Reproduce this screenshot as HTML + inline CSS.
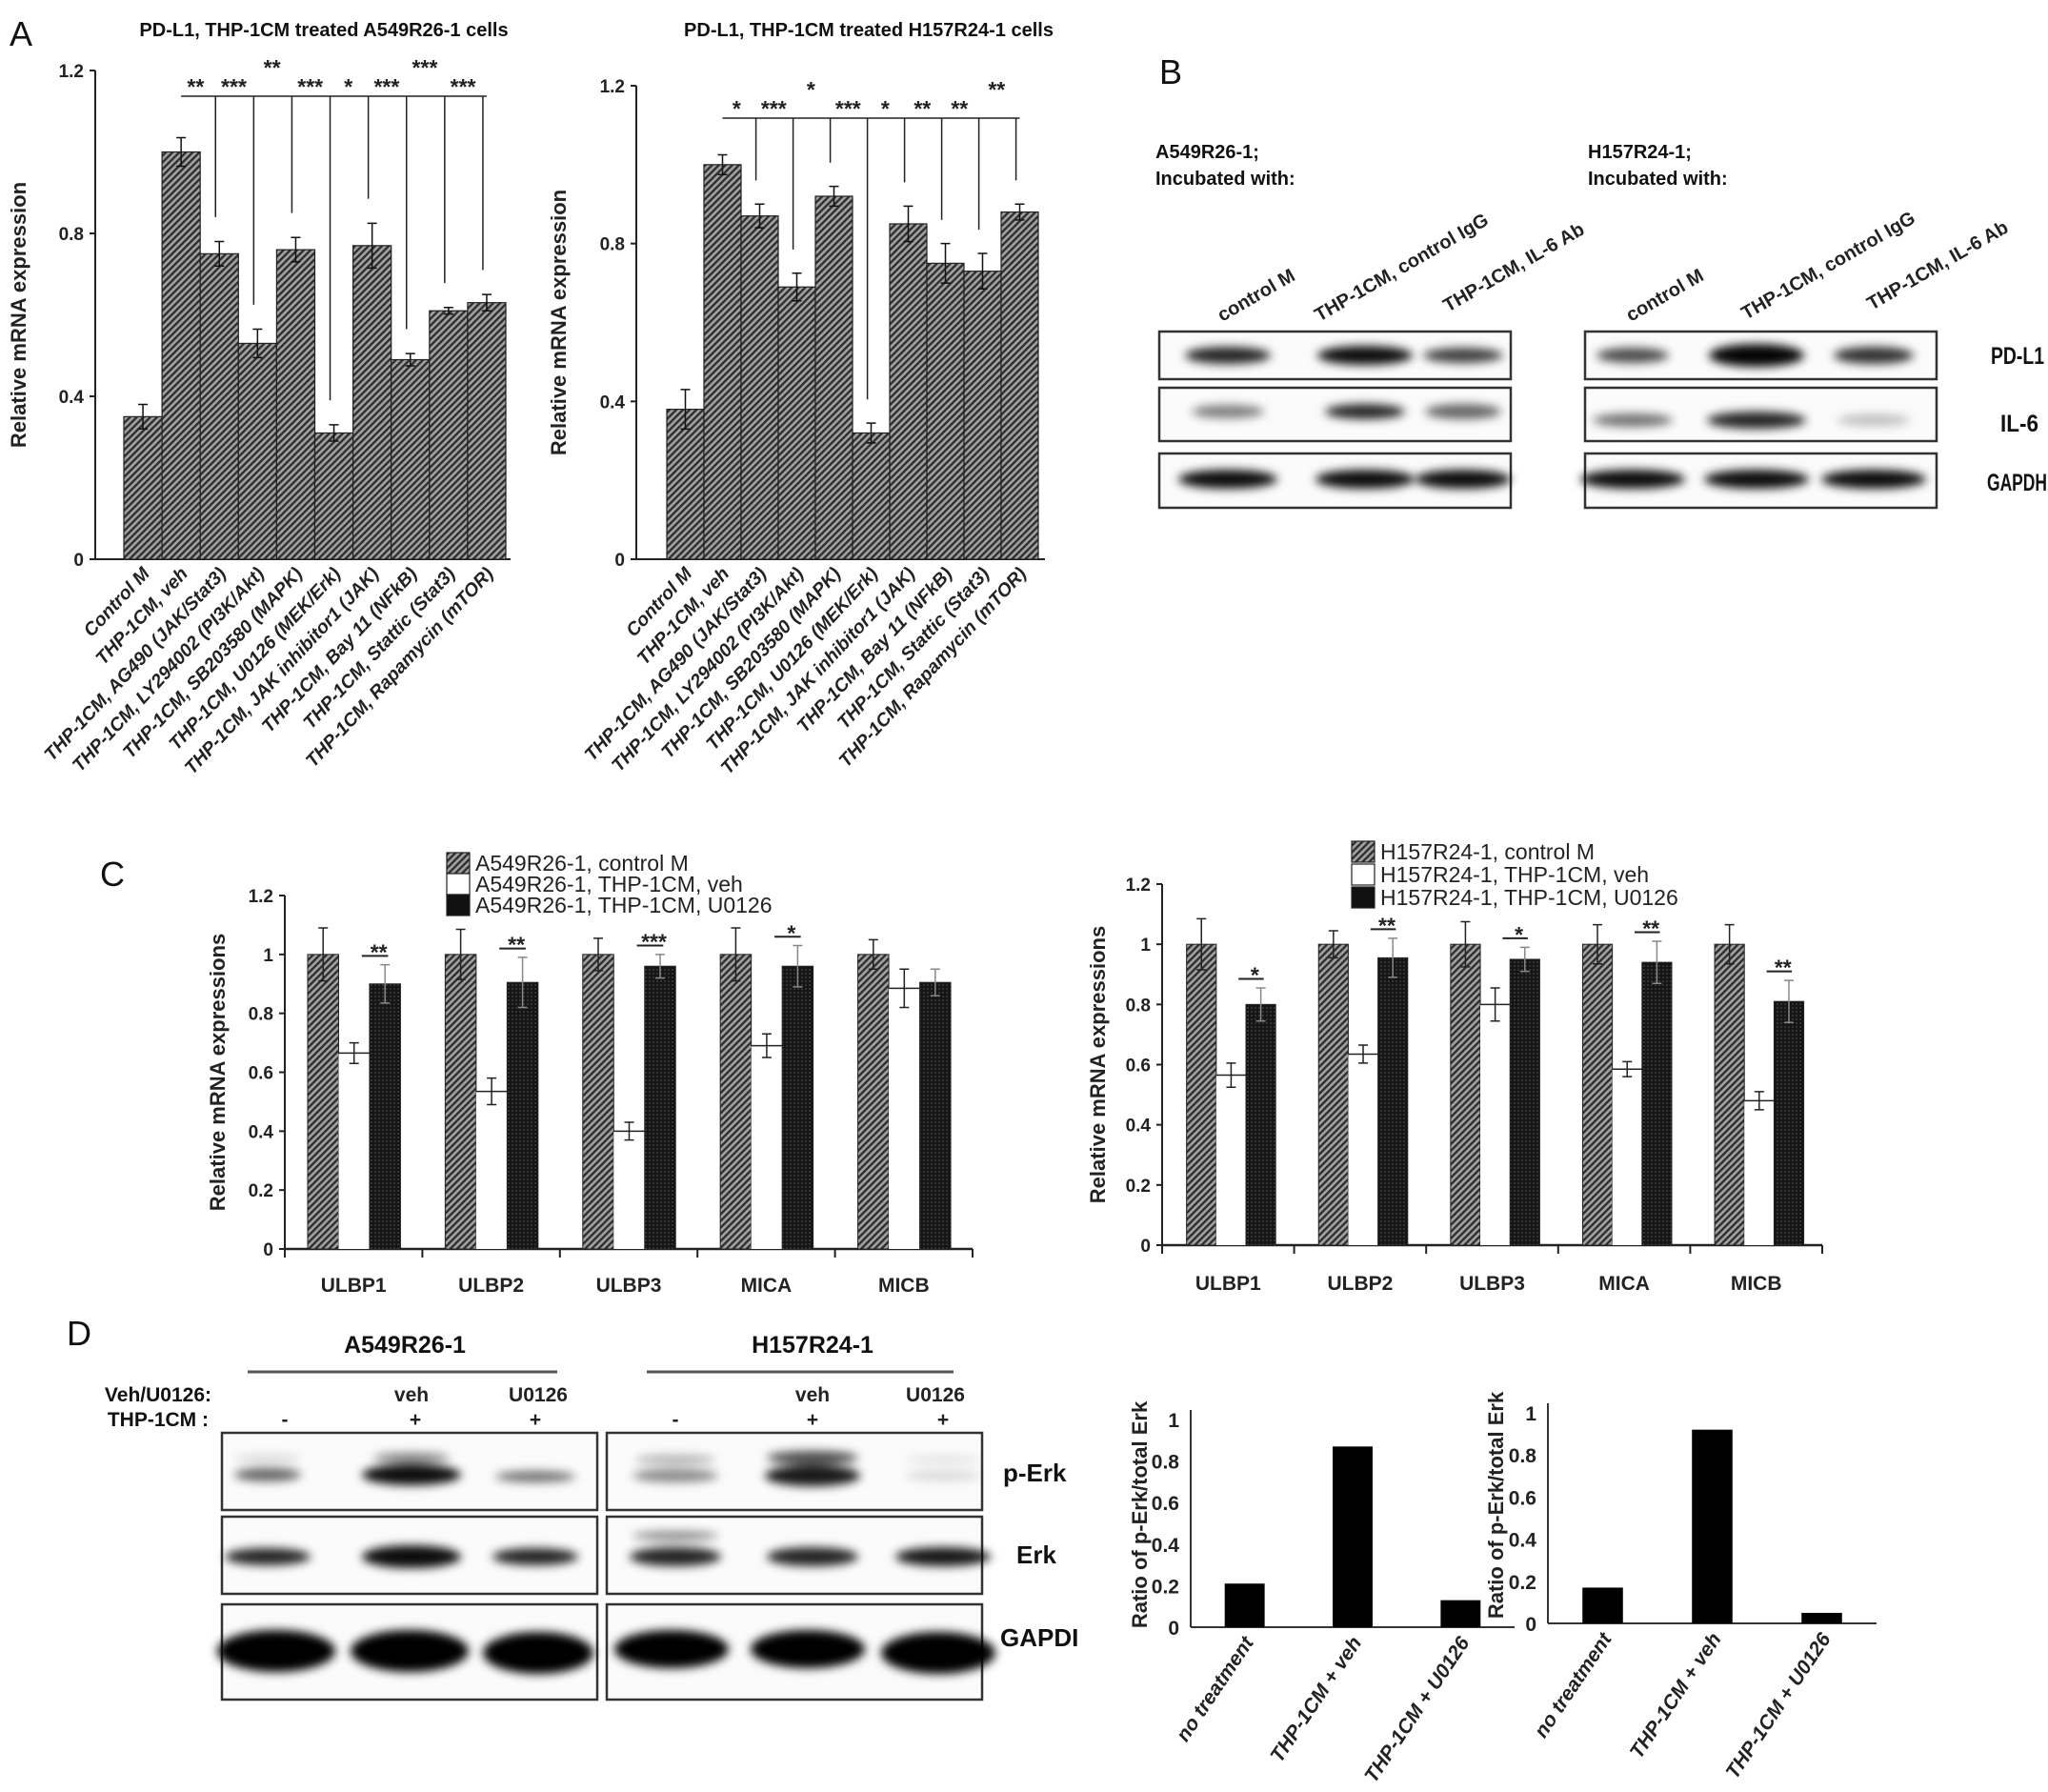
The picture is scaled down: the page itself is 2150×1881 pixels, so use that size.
<!DOCTYPE html>
<html><head><meta charset="utf-8"><style>
html,body{margin:0;padding:0;background:#fff;}
svg{display:block;font-family:"Liberation Sans",sans-serif;}
</style></head><body>
<svg id="fig" width="2150" height="1881" viewBox="0 0 2150 1881" xmlns="http://www.w3.org/2000/svg">
<defs>
<pattern id="hatch" width="5" height="5" patternUnits="userSpaceOnUse" patternTransform="rotate(45)"><rect width="5" height="5" fill="#a0a0a0"/><rect width="2.3" height="5" fill="#2c2c2c"/></pattern>
<pattern id="dots" width="4" height="4" patternUnits="userSpaceOnUse"><rect width="4" height="4" fill="#151515"/><circle cx="2" cy="2" r="0.8" fill="#555"/></pattern>
<filter id="blur" x="-50%" y="-100%" width="200%" height="300%"><feGaussianBlur stdDeviation="5"/></filter>
</defs>
<g font-weight="bold" fill="#111">
<text x="10" y="48" font-size="36" font-weight="normal">A</text>
<text x="340" y="38" font-size="20" text-anchor="middle">PD-L1, THP-1CM treated A549R26-1 cells</text>
<text x="912" y="38" font-size="20" text-anchor="middle">PD-L1, THP-1CM treated H157R24-1 cells</text>
<text x="1217" y="88" font-size="36" font-weight="normal">B</text>
<text x="1213" y="166" font-size="20">A549R26-1;</text>
<text x="1213" y="194" font-size="20">Incubated with:</text>
<text x="1667" y="166" font-size="20">H157R24-1;</text>
<text x="1667" y="194" font-size="20">Incubated with:</text>
<text x="2090" y="382" font-size="25" textLength="56" lengthAdjust="spacingAndGlyphs">PD-L1</text>
<text x="2100" y="453" font-size="25" textLength="40" lengthAdjust="spacingAndGlyphs">IL-6</text>
<text x="2086" y="515" font-size="25" textLength="63" lengthAdjust="spacingAndGlyphs">GAPDH</text>
<text x="105" y="930" font-size="36" font-weight="normal">C</text>
<text x="70" y="1412" font-size="36" font-weight="normal">D</text>
<text x="425" y="1420" font-size="25" text-anchor="middle">A549R26-1</text>
<text x="853" y="1420" font-size="25" text-anchor="middle">H157R24-1</text>
<text x="222" y="1471" font-size="21" text-anchor="end">Veh/U0126:</text>
<text x="219" y="1497" font-size="21" text-anchor="end">THP-1CM :</text>
<text x="1053" y="1555" font-size="26">p-Erk</text>
<text x="1067" y="1641" font-size="26">Erk</text>
<text x="1050" y="1728" font-size="26">GAPDI</text>
</g>
<line x1="260" y1="1440" x2="585" y2="1440" stroke="#555" stroke-width="3"/>
<line x1="679" y1="1440" x2="1001" y2="1440" stroke="#555" stroke-width="3"/>
</svg>
<script>
// ---------- data ----------
const catsA = ["Control M","THP-1CM, veh","THP-1CM, AG490 (JAK/Stat3)","THP-1CM, LY294002 (PI3K/Akt)","THP-1CM, SB203580 (MAPK)","THP-1CM, U0126 (MEK/Erk)","THP-1CM, JAK inhibitor1 (JAK)","THP-1CM, Bay 11 (NFkB)","THP-1CM, Stattic (Stat3)","THP-1CM, Rapamycin (mTOR)"];
const a1Values = [0.35,1.0,0.75,0.53,0.76,0.31,0.77,0.49,0.61,0.63];
const a1Err = [0.03,0.035,0.03,0.035,0.03,0.02,0.055,0.015,0.008,0.02];
const a1Stars = ["**","***","**","***","*","***","***","***"];
const a1StarUp = [0,0,1,0,0,0,1,0];
const a2Values = [0.38,1.0,0.87,0.69,0.92,0.32,0.85,0.75,0.73,0.88];
const a2Err = [0.05,0.025,0.03,0.035,0.025,0.025,0.045,0.05,0.045,0.02];
const a2Stars = ["*","***","*","***","*","**","**","**"];
const a2StarUp = [0,0,1,0,0,0,0,1];
const tickA = [0,0.4,0.8,1.2];
const tickLabelsA = ["0","0.4","0.8","1.2"];

const catsC = ["ULBP1","ULBP2","ULBP3","MICA","MICB"];
const c1Control = [1,1,1,1,1];
const c1ControlErr = [0.09,0.085,0.055,0.09,0.05];
const c1Veh = [0.665,0.535,0.40,0.69,0.885];
const c1VehErr = [0.035,0.045,0.03,0.04,0.065];
const c1U0126 = [0.90,0.905,0.96,0.96,0.905];
const c1U0126Err = [0.065,0.085,0.04,0.07,0.045];
const c1Stars = ["**","**","***","*",""];
const c2Control = [1,1,1,1,1];
const c2ControlErr = [0.085,0.045,0.075,0.065,0.065];
const c2Veh = [0.565,0.635,0.80,0.585,0.48];
const c2VehErr = [0.04,0.03,0.055,0.025,0.03];
const c2U0126 = [0.80,0.955,0.95,0.94,0.81];
const c2U0126Err = [0.055,0.065,0.04,0.07,0.07];
const c2Stars = ["*","**","*","**","**"];
const tickC = [0,0.2,0.4,0.6,0.8,1,1.2];
const tickLabelsC = ["0","0.2","0.4","0.6","0.8","1","1.2"];
const legend1 = ["A549R26-1,  control M","A549R26-1,  THP-1CM, veh","A549R26-1,  THP-1CM, U0126"];
const legend2 = ["H157R24-1,  control M","H157R24-1,  THP-1CM, veh","H157R24-1,  THP-1CM, U0126"];

const catsD = ["no treatment","THP-1CM + veh","THP-1CM + U0126"];
const d1Values = [0.21,0.87,0.13];
const d2Values = [0.17,0.92,0.05];
const tickD = [0,0.2,0.4,0.6,0.8,1];
const tickLabelsD = ["0","0.2","0.4","0.6","0.8","1"];

// ---------- helpers ----------
const NS="http://www.w3.org/2000/svg";
const svg=document.getElementById('fig');
function mk(tag,attrs,parent){const e=document.createElementNS(NS,tag);for(const k in attrs)e.setAttribute(k,attrs[k]);(parent||svg).appendChild(e);return e;}
function txt(s,attrs,parent){const e=mk('text',attrs,parent);e.textContent=s;return e;}

// ---------- panel A ----------
function drawA(cfg,vals,errs,stars,up,prefix){
  const g=mk('g',{});
  
  
  const y=v=>cfg.yZero-v/1.2*(cfg.yZero-cfg.yTop);
  const w=(cfg.barsR-cfg.barsL)/vals.length;
  const cx=i=>cfg.barsL+w*(i+0.5);
  const ax=mk('line',{x1:cfg.x0,y1:cfg.yTop,x2:cfg.x0,y2:cfg.yZero,stroke:'#222','stroke-width':2},g);
  
  
  const xa=mk('line',{x1:cfg.x0,y1:cfg.yZero,x2:cfg.xEnd,y2:cfg.yZero,stroke:'#222','stroke-width':2},g);
  
  
  tickA.forEach((t,i)=>{
    mk('line',{x1:cfg.x0-6,y1:y(t),x2:cfg.x0,y2:y(t),stroke:'#222','stroke-width':2},g);
    const l=txt(tickLabelsA[i],{x:cfg.x0-12,y:y(t)+7,'font-size':19,'font-weight':'bold','text-anchor':'end',fill:'#222'},g);
    
    
  });
  const yt=txt('Relative mRNA expression',{x:0,y:0,'font-size':22,'font-weight':'bold','text-anchor':'middle',fill:'#222',transform:`translate(${cfg.titleX},${(cfg.yTop+cfg.yZero)/2}) rotate(-90)`},g);
  
  
  vals.forEach((v,i)=>{
    const b=mk('rect',{x:cfg.barsL+w*i,y:y(v),width:w,height:cfg.yZero-y(v),fill:'url(#hatch)',stroke:'#222','stroke-width':1.2},g);
    
    
    const e=mk('path',{d:`M${cx(i)} ${y(v+errs[i])}V${y(v-errs[i])}M${cx(i)-5} ${y(v+errs[i])}h10M${cx(i)-5} ${y(v-errs[i])}h10`,stroke:'#111','stroke-width':1.5,fill:'none'},g);
    
    
    const l=txt(catsA[i],{x:0,y:0,'font-size':19.5,'font-weight':'bold','font-style':'italic','text-anchor':'end',fill:'#222',transform:`translate(${cx(i)+8},${cfg.yZero+16}) rotate(-47)`},g);
    
    
  });
  const br=mk('line',{x1:cx(1),y1:cfg.bracketY,x2:cx(vals.length-1),y2:cfg.bracketY,stroke:'#222','stroke-width':1.5},g);
  
  
  stars.forEach((s,k)=>{
    const i=k+2;
    const vx=cx(i)-w*0.1;
    const vl=mk('line',{x1:vx,y1:cfg.bracketY,x2:vx,y2:y(vals[i]+errs[i]+0.06),stroke:'#222','stroke-width':1.5},g);
    
    
    const st=txt(s,{x:cx(i)-w*0.62,y:cfg.bracketY-(up[k]?22:2),'font-size':23,'font-weight':'bold','text-anchor':'middle',fill:'#222'},g);
    
    
  });
}
drawA({x0:100,yTop:74,yZero:587,barsL:130,barsR:531,xEnd:536,bracketY:101,titleX:27},a1Values,a1Err,a1Stars,a1StarUp,'a1');
drawA({x0:668,yTop:90,yZero:587,barsL:700,barsR:1090,xEnd:1097,bracketY:124,titleX:594},a2Values,a2Err,a2Stars,a2StarUp,'a2');

// ---------- panel C ----------
function drawC(cfg,ctrl,ctrlE,veh,vehE,u,uE,stars,legend,prefix){
  const g=mk('g',{});
  
  
  const y=v=>cfg.yZero-v/1.2*(cfg.yZero-cfg.yTop);
  const G=(cfg.xEnd-cfg.x0)/catsC.length;
  const bw=0.225*G;
  const ax=mk('line',{x1:cfg.x0,y1:cfg.yTop,x2:cfg.x0,y2:cfg.yZero,stroke:'#222','stroke-width':2},g);
  
  
  const xa=mk('line',{x1:cfg.x0,y1:cfg.yZero,x2:cfg.xEnd,y2:cfg.yZero,stroke:'#222','stroke-width':2.5},g);
  
  
  tickC.forEach((t,i)=>{
    mk('line',{x1:cfg.x0-6,y1:y(t),x2:cfg.x0,y2:y(t),stroke:'#222','stroke-width':2},g);
    const l=txt(tickLabelsC[i],{x:cfg.x0-12,y:y(t)+7,'font-size':19,'font-weight':'bold','text-anchor':'end',fill:'#222'},g);
    
    
  });
  for(let k=0;k<=catsC.length;k++) mk('line',{x1:cfg.x0+G*k,y1:cfg.yZero,x2:cfg.x0+G*k,y2:cfg.yZero+9,stroke:'#222','stroke-width':2},g);
  const yt=txt('Relative mRNA expressions',{x:0,y:0,'font-size':22,'font-weight':'bold','text-anchor':'middle',fill:'#222',transform:`translate(${cfg.titleX},${(cfg.yTop+cfg.yZero)/2}) rotate(-90)`},g);
  
  
  const series=[[ctrl,ctrlE,'url(#hatch)','control'],[veh,vehE,'#fff','veh'],[u,uE,'url(#dots)','u0126']];
  catsC.forEach((c,i)=>{
    const gx=cfg.x0+G*i;
    series.forEach((s,j)=>{
      const bx=gx+cfg.off*G+bw*j, v=s[0][i], e=s[1][i], cx=bx+bw/2;
      const b=mk('rect',{x:bx,y:y(v),width:bw,height:cfg.yZero-y(v),fill:s[2],stroke:j==1?'none':'#222','stroke-width':1},g);
      
      
      if(j==1){mk('line',{x1:bx,y1:y(v),x2:bx+bw,y2:y(v),stroke:'#222','stroke-width':1.5},g);}
      const eb=mk('path',{d:`M${cx} ${y(v+e)}V${y(v-e)}M${cx-5} ${y(v+e)}h10M${cx-5} ${y(v-e)}h10`,stroke:j==2?'#888':'#222','stroke-width':1.5,fill:'none'},g);
      
      
    });
    const l=txt(c,{x:gx+G/2,y:cfg.labelY,'font-size':21,'font-weight':'bold','text-anchor':'middle',fill:'#222'},g);
    
    
    if(stars[i]){
      const sy=y(u[i]+uE[i]+0.03);
      const cxU=gx+cfg.off*G+bw*2.5;
      const sl=mk('line',{x1:cxU-bw*0.75,y1:sy,x2:cxU+bw*0.1,y2:sy,stroke:'#222','stroke-width':2},g);
      
      
      const st=txt(stars[i],{x:cxU-bw*0.2,y:sy+4,'font-size':23,'font-weight':'bold','text-anchor':'middle',fill:'#222'},g);
      
      
    }
  });
  const fills=['url(#hatch)','#fff','#111'];
  legend.forEach((s,k)=>{
    const ly=cfg.legY+k*cfg.legStep;
    const r=mk('rect',{x:cfg.legX,y:ly-10,width:24,height:22,fill:fills[k],stroke:'#222','stroke-width':1.2},g);
    
    
    const t=txt(s,{x:cfg.legX+30,y:ly+9,'font-size':23,fill:'#222'},g);
    
    
  });
}
drawC({x0:299,yTop:940,yZero:1311,xEnd:1021,off:0.166,labelY:1356,titleX:236,legX:469,legY:905,legStep:22},c1Control,c1ControlErr,c1Veh,c1VehErr,c1U0126,c1U0126Err,c1Stars,legend1,'c1');
drawC({x0:1220,yTop:928,yZero:1307,xEnd:1913,off:0.185,labelY:1354,titleX:1160,legX:1419,legY:893,legStep:24},c2Control,c2ControlErr,c2Veh,c2VehErr,c2U0126,c2U0126Err,c2Stars,legend2,'c2');

// ---------- panel D charts ----------
function drawD(cfg,vals,prefix){
  const g=mk('g',{});
  
  
  const y=v=>cfg.yZero-v*(cfg.yZero-cfg.yTop);
  const G=(cfg.xEnd-cfg.x0)/catsD.length;
  const ax=mk('line',{x1:cfg.x0,y1:cfg.yTop-10,x2:cfg.x0,y2:cfg.yZero,stroke:'#333','stroke-width':2},g);
  
  
  const xa=mk('line',{x1:cfg.x0,y1:cfg.yZero,x2:cfg.xEnd,y2:cfg.yZero,stroke:'#333','stroke-width':2},g);
  
  
  tickD.forEach((t,i)=>{
    const l=txt(tickLabelsD[i],{x:cfg.tickX,y:y(t)+8,'font-size':21,'font-weight':'bold','text-anchor':'end',fill:'#222'},g);
    
    
  });
  const yt=txt('Ratio of p-Erk/total Erk',{x:0,y:0,'font-size':22,'font-weight':'bold','text-anchor':'middle',fill:'#222',transform:`translate(${cfg.titleX},${cfg.titleY}) rotate(-90)`},g);
  
  
  vals.forEach((v,i)=>{
    const cx=cfg.x0+G*(i+0.5), bw=0.37*G;
    const b=mk('rect',{x:cx-bw/2,y:y(v),width:bw,height:cfg.yZero-y(v),fill:'#000'},g);
    
    
    const l=txt(catsD[i],{x:0,y:0,'font-size':21,'font-weight':'bold','font-style':'italic','text-anchor':'end',fill:'#222',transform:`translate(${cx+10},${cfg.yZero+16}) rotate(-56)`},g);
    
    
  });
}
drawD({x0:1250,yTop:1490,yZero:1708,xEnd:1590,tickX:1238,titleX:1204,titleY:1590},d1Values,'d1');
drawD({x0:1625,yTop:1483,yZero:1704,xEnd:1970,tickX:1613,titleX:1578,titleY:1580},d2Values,'d2');

// ---------- western blots ----------
function blot(x,y,w,h,bands,name){
  const g=mk('g',{});
  
  
  mk('rect',{x:x,y:y,width:w,height:h,fill:'#fbfbfb',stroke:'#333','stroke-width':2.5},g);
  const bg=mk('g',{filter:'url(#blur)'},g);
  bands.forEach(b=>mk('ellipse',{cx:b[0],cy:b[1],rx:b[2],ry:b[3],fill:'#000','fill-opacity':b[4]},bg));
}
// Panel B
blot(1217,348,369,50,[[1289,373,45,9,.85],[1433,373,50,10,.95],[1536,373,42,8,.75]],'blot-b1-pdl1');
blot(1217,407,369,56,[[1289,432,38,7,.5],[1433,432,42,8,.85],[1536,432,40,8,.6]],'blot-b1-il6');
blot(1217,476,369,57,[[1289,503,52,10,.95],[1433,503,52,10,.95],[1536,503,50,10,.95]],'blot-b1-gapdh');
blot(1664,348,369,50,[[1714,373,38,8,.7],[1844,373,50,12,.98],[1967,373,42,9,.8]],'blot-b2-pdl1');
blot(1664,407,369,56,[[1714,441,42,7,.55],[1844,441,52,9,.85],[1967,441,38,6,.25]],'blot-b2-il6');
blot(1664,476,369,57,[[1714,503,55,10,.95],[1844,503,55,10,.95],[1967,503,55,10,.95]],'blot-b2-gapdh');
// Panel D
blot(233,1504,394,81,[[281,1548,35,7,.6],[432,1548,52,11,.95],[562,1550,42,6,.55],[432,1530,40,5,.5],[281,1531,35,4,.15]],'blot-d1-perk');
blot(637,1504,394,81,[[709,1549,45,7,.45],[853,1549,50,11,.9],[990,1549,40,6,.12],[709,1532,42,5,.3],[853,1530,48,7,.7],[990,1532,40,4,.1]],'blot-d2-perk');
blot(233,1592,394,81,[[281,1634,45,9,.85],[432,1634,52,12,.95],[562,1634,45,9,.85]],'blot-d1-erk');
blot(637,1592,394,81,[[709,1634,48,10,.85],[853,1634,48,10,.85],[990,1634,50,10,.9],[709,1612,45,5,.45]],'blot-d2-erk');
blot(233,1684,394,100,[[290,1733,62,22,1],[430,1733,62,22,1],[565,1735,58,22,1]],'blot-d1-gapdh');
blot(637,1684,394,100,[[705,1731,60,20,1],[848,1731,60,20,1],[985,1735,60,22,1]],'blot-d2-gapdh');

// Blot column labels (panel B, rotated)
const colLabels=[["control M",1283,338],["THP-1CM, control IgG",1385,338],["THP-1CM, IL-6 Ab",1520,328],["control M",1712,338],["THP-1CM, control IgG",1833,336],["THP-1CM, IL-6 Ab",1965,326]];
colLabels.forEach(c=>{
  const t=txt(c[0],{x:0,y:0,'font-size':20,'font-weight':'bold',fill:'#222',transform:`translate(${c[1]},${c[2]}) rotate(-30)`});
  
  
});
// Panel D treatment row labels
const dRow=[["veh",432,1471],["U0126",565,1471],["veh",853,1471],["U0126",982,1471],["-",299,1497],["+",436,1497],["+",562,1497],["-",709,1497],["+",853,1497],["+",990,1497]];
dRow.forEach(c=>{
  const t=txt(c[0],{x:c[1],y:c[2],'font-size':21,'font-weight':'bold','text-anchor':'middle',fill:'#222'});
  
  
});
</script>
</body></html>
